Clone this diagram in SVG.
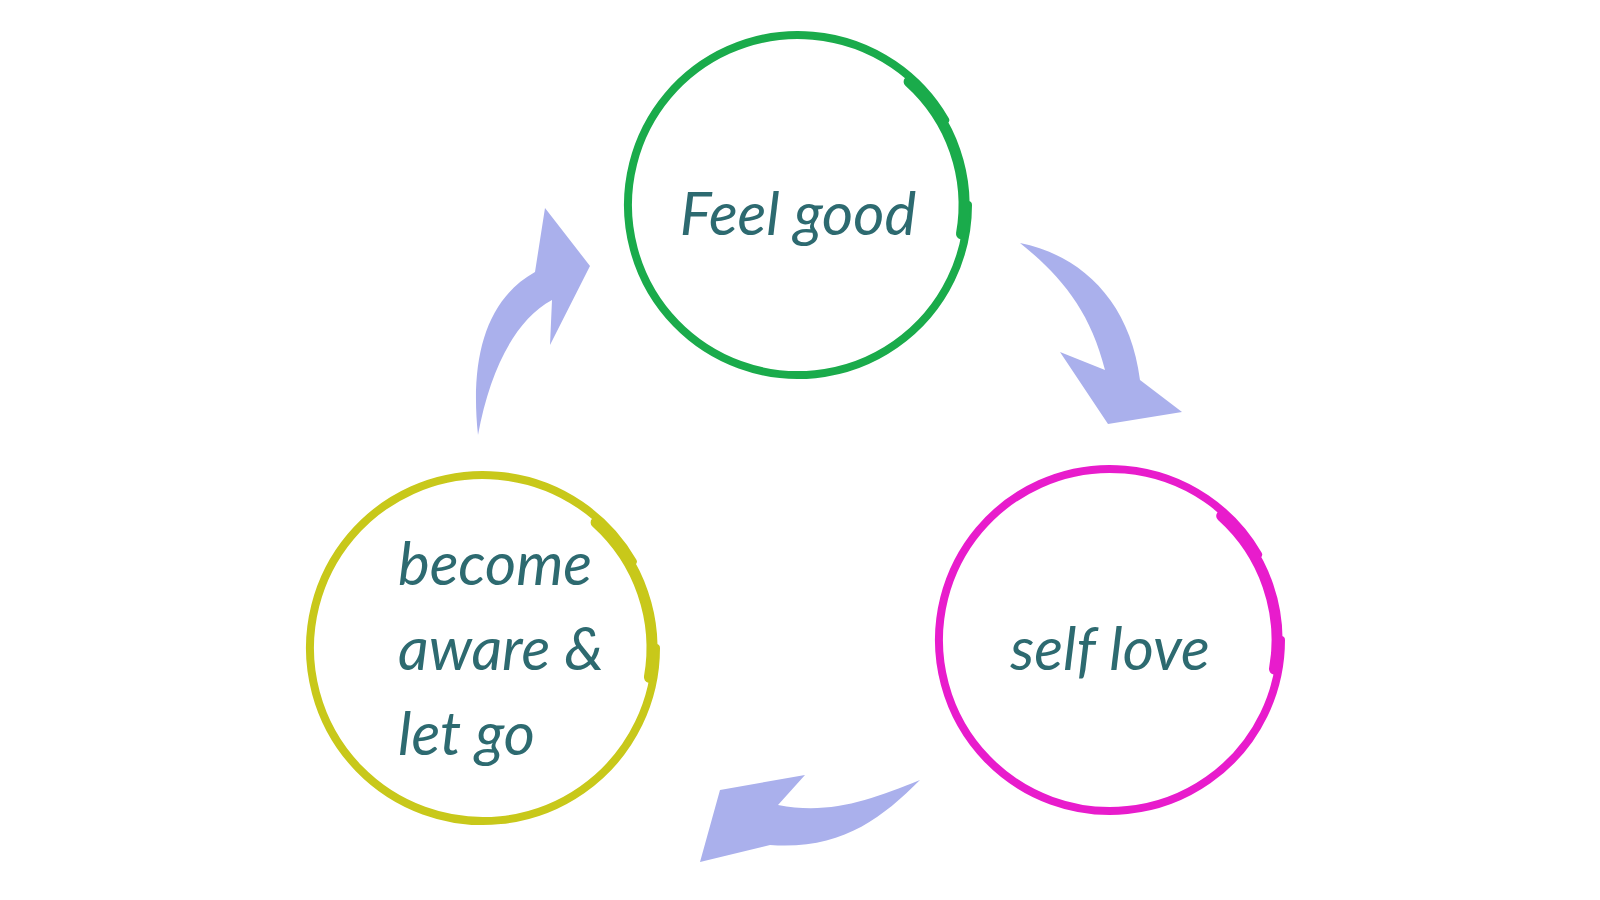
<svg xmlns="http://www.w3.org/2000/svg" width="1600" height="900" viewBox="0 0 1600 900">
<style>
.ring{fill:none;stroke-linecap:round}
.lbl{font-family:"Lato","Noto Sans",sans-serif;font-style:italic;font-size:60px;fill:#2d6a70}
.arr{fill:#aab0ec}
</style>
<rect width="1600" height="900" fill="#fff"/>
<g id="node-feel-good">
<path class="ring" stroke="#1aab4b" stroke-width="8" d="M945.2,120 A170,170 0 1 0 968,205"/>
<path class="ring" stroke="#1aab4b" stroke-width="11" d="M909.1,81.6 A166,166 0 0 1 961.5,233.8"/>
<text class="lbl" x="798" y="235" text-anchor="middle">Feel good</text>
</g>
<g id="node-self-love">
<path class="ring" stroke="#e81ccc" stroke-width="8" d="M1258.1,554.5 A171,171 0 1 0 1281,640"/>
<path class="ring" stroke="#e81ccc" stroke-width="11" d="M1221.7,515.9 A167,167 0 0 1 1274.5,669"/>
<text class="lbl" x="1110" y="670" text-anchor="middle">self love</text>
</g>
<g id="node-become-aware">
<path class="ring" stroke="#c8c81a" stroke-width="8" d="M632.8,561.5 A173,173 0 1 0 656,648"/>
<path class="ring" stroke="#c8c81a" stroke-width="11" d="M596.1,522.4 A169,169 0 0 1 649.4,677.3"/>
<text class="lbl" x="398" y="585">become</text>
<text class="lbl" x="398" y="670">aware &amp;</text>
<text class="lbl" x="398" y="755">let go</text>
</g>
<g id="connectors">
<path class="arr" d="M478,435 C470,360 485,300 535,272 L545,208 L590,266 L550,345 L552,300 C515,320 490,370 478,435 Z"/>
<path class="arr" d="M1020,243 C1080,255 1130,300 1140,380 L1182,412 L1108,424 L1060,352 L1105,370 C1090,310 1060,275 1020,243 Z"/>
<path class="arr" d="M920,780 C880,820 840,850 770,845 L700,862 L720,790 L805,775 L778,805 C830,815 870,800 920,780 Z"/>
</g>
</svg>
